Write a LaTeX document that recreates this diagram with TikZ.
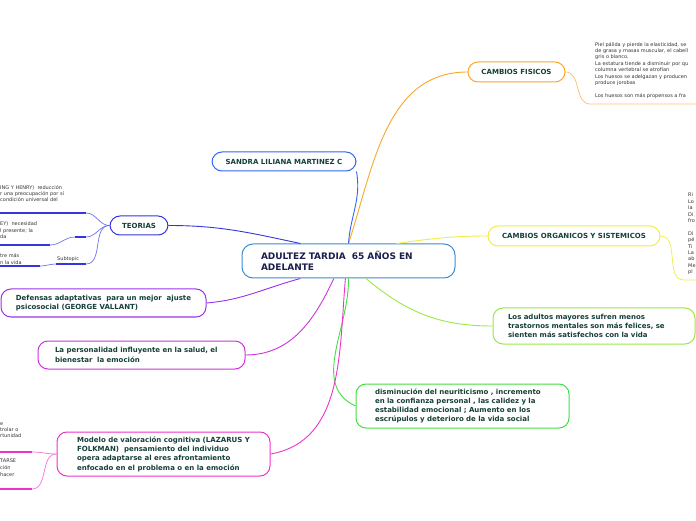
\documentclass[tikz,border=0pt]{standalone}
\usepackage{fontspec}
\setmainfont{DejaVu Sans}
\usetikzlibrary{calc}
\definecolor{centblue}{HTML}{3D8BD4}
\definecolor{centtxt}{HTML}{1B1F4F}
\definecolor{nodetxt}{HTML}{15403A}
\definecolor{leaftxt}{HTML}{333333}
\definecolor{fisorange}{HTML}{F9A62B}
\definecolor{sandblue}{HTML}{3366F0}
\definecolor{orgyellow}{HTML}{EEEE44}
\definecolor{adgreen}{HTML}{99E844}
\definecolor{neugreen}{HTML}{44DD44}
\definecolor{teoblue}{HTML}{3535DD}
\definecolor{defpurple}{HTML}{9933EE}
\definecolor{perpurple}{HTML}{CC33DD}
\definecolor{modpink}{HTML}{EE33CC}
\tikzset{
  topic/.style={draw, fill=white, rounded corners=10pt, line width=1pt, text=nodetxt,
    inner xsep=0pt, inner ysep=0pt, align=left, font=\fontsize{7}{9.3}\selectfont\bfseries},
  branch/.style={line width=0.9pt},
  leaf/.style={inner sep=0pt, anchor=north west, align=left, text=leaftxt,
    font=\fontsize{5}{6.4}\selectfont},
  uline/.style={line width=1.8pt}
}

\begin{document}
\begin{tikzpicture}[x=1pt,y=1pt]
  \useasboundingbox (0,0) rectangle (696,520);
  \clip (0,0) rectangle (696,520);

  % topics
  \node[topic, draw=fisorange, minimum width=97, minimum height=20, align=center] (fisicos) at (516.5,448) {CAMBIOS FISICOS};
  \node[topic, draw=sandblue, minimum width=144, minimum height=19, align=center] (sandra) at (284,358.5) {SANDRA LILIANA MARTINEZ C};
  \node[topic, draw=orgyellow, minimum width=172, minimum height=20, align=center] (organicos) at (574,284) {CAMBIOS ORGANICOS Y SISTEMICOS};
  \node[topic, draw=adgreen, minimum width=202, minimum height=36, text width=172] (adultos) at (594,194)
    {Los adultos mayores sufren menos\\trastornos mentales son más felices, se\\sienten más satisfechos con la vida};
  \node[topic, draw=neugreen, minimum width=213, minimum height=44, text width=175] (neuro) at (462.5,114)
    {disminución del neuriticismo , incremento\\en la confianza personal , las calidez y la\\estabilidad emocional ; Aumento en los\\escrúpulos y deterioro de la vida social};
  \node[topic, draw=teoblue, minimum width=58, minimum height=19, align=center] (teorias) at (139,294.5) {TEORIAS};
  \node[topic, draw=defpurple, minimum width=205, minimum height=28] (defensas) at (103.5,217)
    {Defensas adaptativas~ para un mejor~ ajuste\\psicosocial (GEORGE VALLANT)};
  \node[topic, draw=perpurple, minimum width=207, minimum height=28, text width=173] (personalidad) at (141.5,165)
    {La personalidad influyente en la salud, el\\bienestar~ la emoción};
  \node[topic, draw=modpink, minimum width=213, minimum height=44] (modelo) at (163.5,66)
    {Modelo de valoración cognitiva (LAZARUS Y\\FOLKMAN)~ pensamiento del individuo\\opera adaptarse al eres afrontamiento\\enfocado en el problema o en la emoción};

  % central topic
  \node[draw=centblue, fill=white, rounded corners=11pt, line width=1pt, minimum width=213, minimum height=34,
    text width=175, align=left, text=centtxt, inner xsep=0pt, font=\fontsize{9}{11}\selectfont\bfseries] (cent) at (348.5,259)
    {ADULTEZ TARDIA~ 65 AÑOS EN\\ADELANTE};

  % main branches
  \draw[branch, fisorange] (cent.north) to[out=72, in=180] (fisicos.west);
  \draw[branch, sandblue] (cent.north) to[out=86, in=-80] (sandra.south east);
  \draw[branch, orgyellow] (cent.20) to[out=8, in=180] (organicos.west);
  \draw[branch, adgreen] (cent.-45) to[out=-40, in=180] (adultos.west);
  \draw[branch, neugreen] (cent.south) to[out=-89, in=155] (neuro.west);
  \draw[branch, teoblue] (cent.160) to[out=168, in=0] (teorias.east);
  \draw[branch, defpurple] (cent.-160) to[out=-165, in=5] (defensas.east);
  \draw[branch, perpurple] (cent.-130) to[out=-115, in=0] (personalidad.east);
  \draw[branch, modpink] (cent.-100) to[out=-95, in=10] (modelo.east);

  % cambios fisicos
  \coordinate (fisA) at (590,416);
  \coordinate (fisB) at (696,416);
  \draw[branch, fisorange!70, line width=0.7pt] (fisicos.east) to[out=0, in=180] (fisA) -- (fisB);
  \node[leaf] (fistxt) at (595,478)
    {Piel pálida y pierde la elasticidad, se\\de grasa y masas muscular, el cabell\\gris o blanco.\\La estatura tiende a disminuir por qu\\columna vertebral se atrofian\\Los huesos se adelgazan y producen\\produce jorobas\\[6.4pt]Los huesos son más propensos a fra};

  % cambios organicos
  \coordinate (orgA) at (684,240);
  \coordinate (orgB) at (696,240);
  \draw[branch, orgyellow, line width=0.7pt] (organicos.east) to[out=0, in=180] (orgA) -- (orgB);
  \node[leaf] (orgtxt) at (688,327) {Ri\\Lo\\la\\Di\\fro\\[6.4pt]Di\\pé\\Ti\\La\\ab\\Me\\pl};

  % teorias
  \coordinate (teoA) at (0,307);   \coordinate (teoB) at (86,307);
  \coordinate (teoC) at (0,275);   \coordinate (teoD) at (50,275);
  \coordinate (teoE) at (75,283);  \coordinate (teoF) at (86,283);
  \coordinate (teoG) at (0,254);   \coordinate (teoH) at (40,254);
  \coordinate (teoI) at (56,256);  \coordinate (teoJ) at (86,256);
  \draw[uline, teoblue] (teoA) -- (teoB);
  \draw[uline, teoblue] (teoC) -- (teoD);
  \draw[uline, teoblue] (teoE) -- (teoF);
  \draw[uline, teoblue] (teoG) -- (teoH);
  \draw[uline, teoblue] (teoI) -- (teoJ);
  \draw[teoblue!70, line width=0.7pt] (teorias.west) to[out=180, in=0] (teoB);
  \draw[teoblue!70, line width=0.7pt] (teorias.west) to[out=180, in=0] (teoF);
  \draw[teoblue!70, line width=0.7pt] (teoD) to[out=0, in=180] (teoE);
  \draw[teoblue!70, line width=0.7pt] (teorias.west) to[out=180, in=0] (teoJ);
  \draw[teoblue!70, line width=0.7pt] (teoH) to[out=0, in=180] (teoI);
  \node[leaf] (teotxt1) at (0,335) {ING Y HENRY)~ reducción\\r una preocupación por sí\\condición universal del};
  \node[leaf] (teotxt2) at (0,298) {EY)~ necesidad\\l presente; la\\da};
  \node[leaf] (teotxt3) at (0,266.5) {tre más\\n la vida};
  \node[leaf, anchor=south west] (teosub) at (57,258) {Subtopic};

  % modelo
  \coordinate (modA) at (0,68);  \coordinate (modB) at (32,68);
  \coordinate (modC) at (0,31);  \coordinate (modD) at (32,31);
  \draw[uline, modpink] (modA) -- (modB);
  \draw[uline, modpink] (modC) -- (modD);
  \draw[modpink!70, line width=0.7pt] (modelo.west) to[out=180, in=0] (modB);
  \draw[modpink!70, line width=0.7pt] (modelo.west) to[out=180, in=0] (modD);
  \node[leaf] (modtxt1) at (0,98) {e\\trolar o\\rtunidad};
  \node[leaf, font=\fontsize{5}{7}\selectfont] (modtxt2) at (0,61) {TARSE\\ción\\hacer};
\end{tikzpicture}
\end{document}
